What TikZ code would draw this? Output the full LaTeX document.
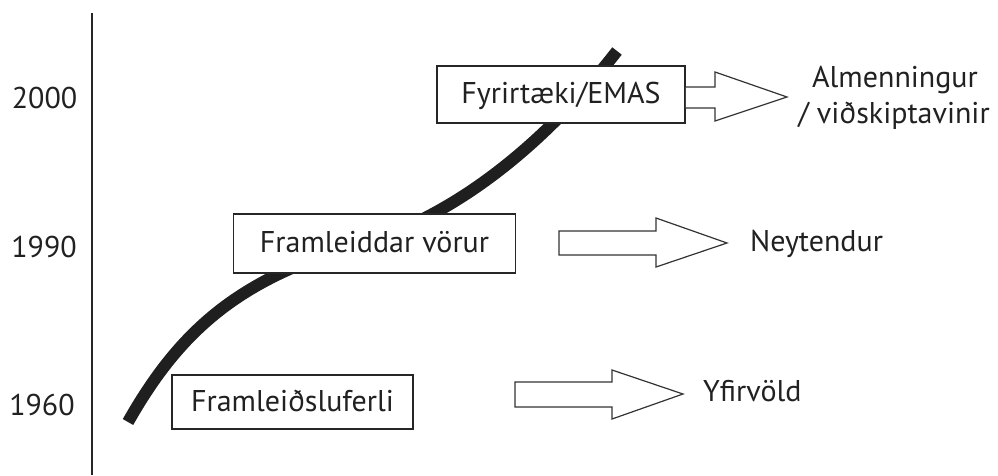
\documentclass[tikz,border=0pt]{standalone}
\usepackage{fontspec}
\setmainfont{PT Sans}
\begin{document}
\begin{tikzpicture}[x=1pt,y=-1pt,
  txt/.style={font=\fontsize{30}{34}\selectfont, text=black!87, inner sep=0pt},
  yearlbl/.style={txt, anchor=base},
  stage/.style={draw=black!85, line width=1.6pt, fill=white, inner sep=0pt,
    font=\fontsize{30}{34}\selectfont, text=black!87, text height=26pt, text depth=8pt},
  fatarrow/.style={draw=black!80, line width=1.2pt, fill=white, line join=miter},
  trend/.style={line width=12pt, draw=black!88, line cap=butt}]
\useasboundingbox (0,0) rectangle (998,475);
% axis
\coordinate (axtop) at (92,13);
\coordinate (axbot) at (92,475);
\draw[line width=1.6pt, black!85] (axtop) -- (axbot);
% years
\node[yearlbl] (y2000) at (44.5,108) {2000};
\node[yearlbl] (y1990) at (44,257) {1990};
\node[yearlbl] (y1960) at (42,415) {1960};
% trend curve
\coordinate (cs) at (128,422);
\coordinate (cm) at (360,244);
\coordinate (ce) at (617,51);
\draw[trend] (cs) .. controls (180,330) and (240,278) .. (cm)
  .. controls (450,218) and (540,150) .. (ce);
% stage boxes
\node[stage, minimum width=248pt, minimum height=57pt] (b1) at (561,94.5) {Fyrirtæki/EMAS};
\node[stage, minimum width=282pt, minimum height=59pt] (b2) at (374.5,243.5) {Framleiddar vörur};
\node[stage, minimum width=241pt, minimum height=54pt] (b3) at (292.5,402) {Framleiðsluferli};
% arrows
\draw[fatarrow] (b1.east |- 0,87) -- (715,87) -- (715,72) -- (787,97) -- (715,121) -- (715,108) -- (b1.east |- 0,108);
\draw[fatarrow] (559,231) -- (656,231) -- (656,218) -- (727,243) -- (656,267) -- (656,255) -- (559,255) -- cycle;
\draw[fatarrow] (515,382) -- (612,382) -- (612,370) -- (683,394) -- (612,419) -- (612,407) -- (515,407) -- cycle;
% targets
\node[txt, anchor=base] (t1) at (895,87) {Almenningur};
\node[txt, anchor=base] (t1b) at (894,123) {/ viðskiptavinir};
\node[txt, anchor=base west] (t2) at (750,251) {Neytendur};
\node[txt, anchor=base west] (t3) at (703,401) {Yfirvöld};
\end{tikzpicture}
\end{document}
